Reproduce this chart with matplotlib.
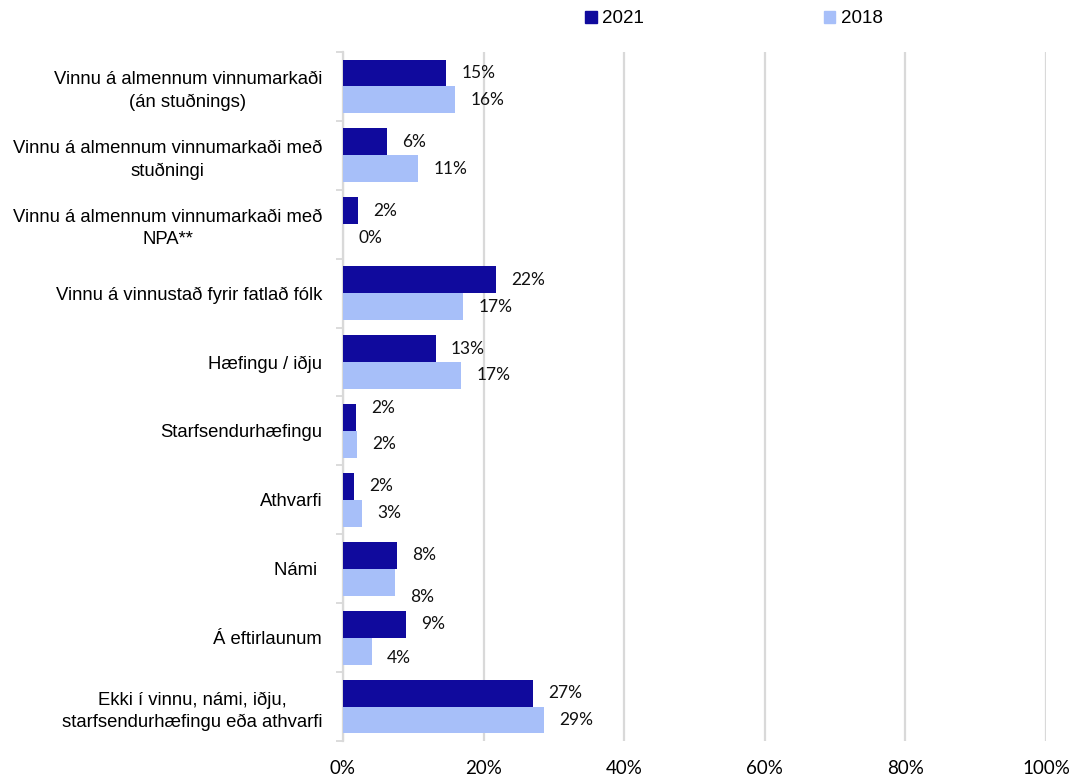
import matplotlib

matplotlib.use("Agg")
import matplotlib.pyplot as plt
import numpy as np
from matplotlib.patches import Patch
from matplotlib.ticker import FixedLocator, PercentFormatter

categories = [
    "Vinnu á almennum vinnumarkaði\n(án stuðnings)",
    "Vinnu á almennum vinnumarkaði með\nstuðningi",
    "Vinnu á almennum vinnumarkaði með\nNPA**",
    "Vinnu á vinnustað fyrir fatlað fólk",
    "Hæfingu / iðju",
    "Starfsendurhæfingu",
    "Athvarfi",
    "Námi ",
    "Á eftirlaunum",
    "Ekki í vinnu, námi, iðju,\nstarfsendurhæfingu eða athvarfi",
]
values_2021 = [14.7, 6.3, 2.1, 21.8, 13.2, 1.9, 1.6, 7.7, 8.9, 27.0]
values_2018 = [16.0, 10.7, 0.0, 17.1, 16.8, 2.0, 2.7, 7.4, 4.1, 28.6]
labels_2021 = ["15%", "6%", "2%", "22%", "13%", "2%", "2%", "8%", "9%", "27%"]
labels_2018 = ["16%", "11%", "0%", "17%", "17%", "2%", "3%", "8%", "4%", "29%"]

dark = "#100a9d"
light = "#a7bff9"
grid_c = "#d9d9d9"

# small vertical nudges (points) where the original label sits off-centre
nudge_2021 = {5: 7}
nudge_2018 = {7: -11, 8: -5}

fig = plt.figure(figsize=(10.75, 7.8), dpi=100)
ax = fig.add_axes([343 / 1075, 1 - 741 / 780, (1046 - 343) / 1075, (741 - 52) / 780])

y = np.arange(len(categories))
h = 0.39
ax.barh(y - h / 2, values_2021, height=h, color=dark, zorder=3)
ax.barh(y + h / 2, values_2018, height=h, color=light, zorder=3)

label_font = dict(family="Lato", fontsize=12.5, color="#111111")
for i, (v, t) in enumerate(zip(values_2021, labels_2021)):
    ax.annotate(t, (v, i - h / 2), xytext=(11, nudge_2021.get(i, 0)), textcoords="offset points",
                ha="left", va="center", **label_font)
for i, (v, t) in enumerate(zip(values_2018, labels_2018)):
    ax.annotate(t, (v, i + h / 2), xytext=(11, nudge_2018.get(i, 0)), textcoords="offset points",
                ha="left", va="center", **label_font)

ax.set_xlim(0, 100)
ax.set_ylim(len(categories) - 0.5, -0.5)
ax.set_xticks([0, 20, 40, 60, 80, 100])
ax.xaxis.set_major_formatter(PercentFormatter(decimals=0))
ax.tick_params(axis="x", length=0, pad=14, labelsize=13.5)
for lab in ax.get_xticklabels():
    lab.set_family("Lato")

ax.set_yticks(y)
ax.set_yticklabels(categories, family="Liberation Sans", fontsize=13.3, ha="right",
                   multialignment="center", linespacing=1.4)
ax.tick_params(axis="y", which="major", length=0, pad=15)
ax.yaxis.set_minor_locator(FixedLocator(np.arange(len(categories) + 1) - 0.5))
ax.tick_params(axis="y", which="minor", length=5, width=1.3, color=grid_c, direction="out")

ax.grid(axis="x", color=grid_c, linewidth=1.6, zorder=0)
for s in ["top", "right", "bottom"]:
    ax.spines[s].set_visible(False)
ax.spines["left"].set_color(grid_c)
ax.spines["left"].set_linewidth(1.6)

handles = [Patch(color=dark, label="2021"), Patch(color=light, label="2018")]
fig.legend(handles=handles, loc="center", bbox_to_anchor=(0.683, 0.976), ncol=2, frameon=False,
           prop={"family": "Liberation Sans", "size": 13.5}, handlelength=0.6, handleheight=0.6,
           handletextpad=0.3, columnspacing=9.6)

fig.savefig("out.png", dpi=100)
